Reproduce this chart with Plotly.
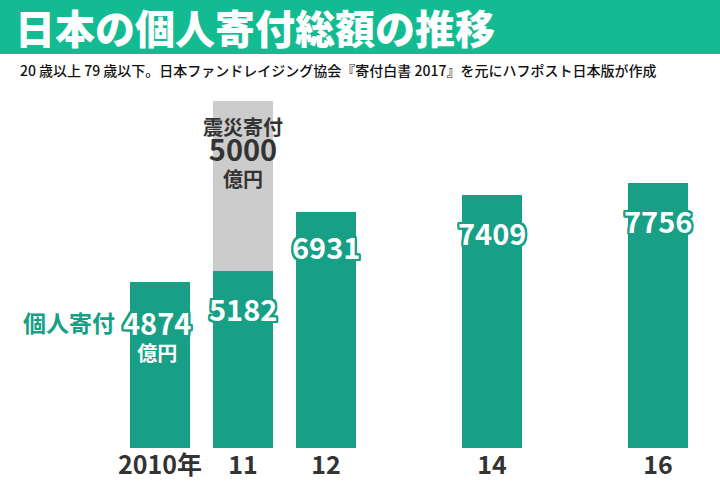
import plotly.graph_objects as go

years = [2010, 2011, 2012, 2014, 2016]
tick_labels = ["2010年", "11", "12", "14", "16"]
personal = [4874, 5182, 6931, 7409, 7756]
disaster_year = [2011]
disaster = [5000]

GREEN = "#17a085"
BANNER = "#13bb92"
GRAY = "#cccccc"
DARK = "#333333"
FONT = "Noto Sans CJK JP"
BAR_W = 0.723

fig = go.Figure()
fig.add_trace(go.Bar(x=years, y=personal, width=BAR_W, marker=dict(color=GREEN, line=dict(width=0)),
                     hoverinfo="skip", showlegend=False))
fig.add_trace(go.Bar(x=disaster_year, y=disaster, width=BAR_W, marker=dict(color=GRAY, line=dict(width=0)),
                     hoverinfo="skip", showlegend=False))

outline = ", ".join(f"{dx}px {dy}px 0 {GREEN}" for dx in (-2, -1, 0, 1, 2) for dy in (-2, -1, 0, 1, 2))

annotations = []
for i, (yr, v) in enumerate(zip(years, personal)):
    if i == 0:
        annotations.append(dict(x=yr, y=v, xref="x", yref="y",
                                text=f"<span style='font-size:29px'>{v}</span><br>億円", showarrow=False,
                                yshift=-52, xshift=-3,
                                font=dict(family=FONT, size=20, color="white", weight="bold", shadow=outline)))
    else:
        annotations.append(dict(x=yr, y=v, xref="x", yref="y", text=str(v), showarrow=False,
                                yshift=-37 if i != 2 else -34,
                                font=dict(family=FONT, size=29, color="white", weight="bold", shadow=outline)))
annotations.append(dict(x=years[0], y=personal[0], text="個人寄付", showarrow=False, yshift=-40, xshift=-91,
                        font=dict(family=FONT, size=23, color=GREEN, weight="bold")))
# disaster labels
total_2011 = personal[1] + disaster[0]
annotations.append(dict(x=disaster_year[0], y=total_2011,
                        text=f"震災寄付<br><span style='font-size:29px'>{disaster[0]}</span><br>億円",
                        showarrow=False, yshift=-52,
                        font=dict(family=FONT, size=20, color=DARK, weight="bold")))
# subtitle
annotations.append(dict(x=18/720, y=(448 - 70) / 348, xref="paper", yref="paper", xanchor="left", yanchor="middle",
                        text="20 歳以上 79 歳以下。日本ファンドレイジング協会『寄付白書 2017』を元にハフポスト日本版が作成",
                        showarrow=False, font=dict(family=FONT, size=14, color="#111111", weight=500)))

fig.update_layout(
    width=720, height=483,
    margin=dict(l=0, r=0, t=100, b=35),
    paper_bgcolor="white", plot_bgcolor="white",
    barmode="stack",
    title=dict(text="日本の個人寄付総額の推移", x=15/720, xref="container", xanchor="left",
               y=1 - 30/483, yref="container", yanchor="middle",
               font=dict(family=FONT, size=40, color="white", weight=900)),
    shapes=[dict(type="rect", xref="paper", yref="paper", x0=0, x1=1,
                 y0=(448 - 54) / 348, y1=(448 + 5) / 348, fillcolor=BANNER, line=dict(width=0), layer="below")],
    xaxis=dict(range=[2008.072, 2016.747], tickvals=years, ticktext=tick_labels, showgrid=False,
               zeroline=False, showline=False, ticks="",
               tickfont=dict(family=FONT, size=25, color=DARK, weight="bold")),
    yaxis=dict(range=[0, 10200], visible=False, showgrid=False, zeroline=False),
    annotations=annotations,
    font=dict(family=FONT),
)

fig.write_html("out.html")
